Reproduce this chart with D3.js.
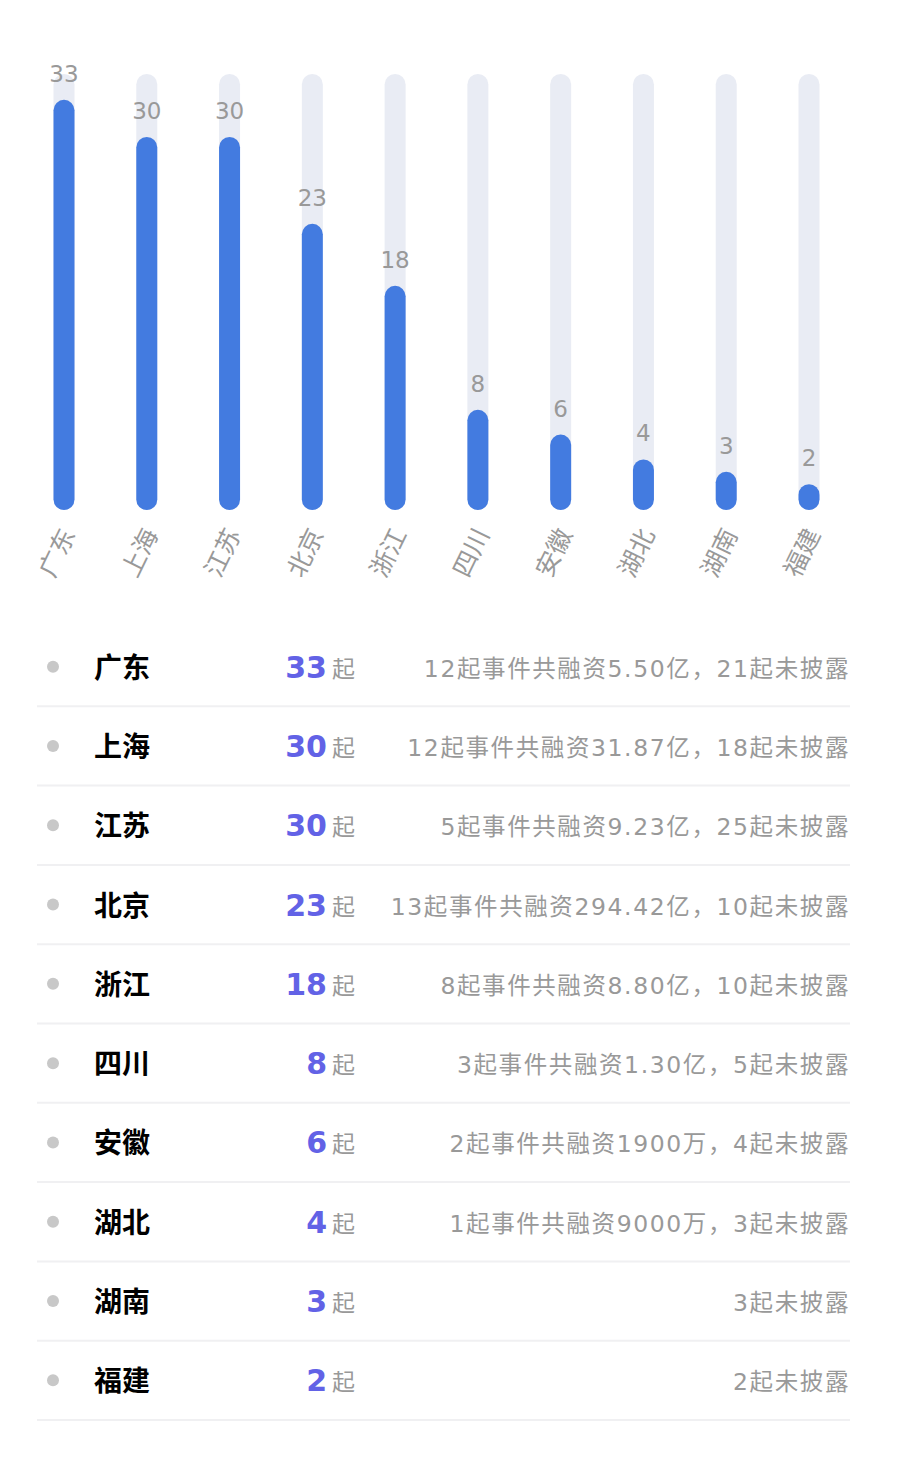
<!DOCTYPE html>
<html><head><meta charset="utf-8">
<script src="https://cdn.jsdelivr.net/npm/d3@7"></script>
<style>body{margin:0;background:#fff;font-family:"DejaVu Sans","Noto Sans CJK SC",sans-serif}</style>
</head><body><svg id="c" width="897" height="1461"></svg>
<script>
const provinces=["广东","上海","江苏","北京","浙江","四川","安徽","湖北","湖南","福建"];
const counts=[33,30,30,23,18,8,6,4,3,2];
const details=["12起事件共融资5.50亿，21起未披露","12起事件共融资31.87亿，18起未披露","5起事件共融资9.23亿，25起未披露","13起事件共融资294.42亿，10起未披露","8起事件共融资8.80亿，10起未披露","3起事件共融资1.30亿，5起未披露","2起事件共融资1900万，4起未披露","1起事件共融资9000万，3起未披露","3起未披露","2起未披露"];
const unit="起";
const svg=d3.select("#c");
const x=d3.scalePoint().domain(provinces).range([64,809]);
const y=d3.scaleLinear().domain([0,35]).range([510,76]);
const bw=21;
const g=svg.append("g");
g.selectAll(".bg").data(provinces).join("rect").attr("x",d=>x(d)-bw/2).attr("width",bw)
 .attr("y",y(35)-2).attr("height",y(0)-y(35)+2).attr("rx",bw/2).attr("fill","#e9ecf4");
g.selectAll(".bar").data(counts).join("rect").attr("x",(d,i)=>x(provinces[i])-bw/2).attr("width",bw)
 .attr("y",d=>y(d)-1).attr("height",d=>y(0)-y(d)+1).attr("rx",bw/2).attr("fill","#437be0");
g.selectAll(".vl").data(counts).join("text").attr("x",(d,i)=>x(provinces[i])).attr("y",d=>y(d)-19)
 .attr("text-anchor","middle").attr("font-size",23).attr("fill","#999").text(d=>d);
g.selectAll(".xl").data(provinces).join("text")
 .attr("transform",d=>`translate(${x(d)+12},${534}) rotate(-64)`)
 .attr("text-anchor","end").attr("font-size",25).attr("fill","#999").text(d=>d);
const rowY=d3.scaleBand().domain(provinces).range([627,1420]);
const rows=svg.selectAll(".row").data(provinces).join("g").attr("transform",d=>`translate(0,${rowY(d)+rowY.bandwidth()/2})`);
rows.append("circle").attr("cx",53).attr("cy",0).attr("r",6).attr("fill","#c8c8c8");
rows.append("text").attr("x",94).attr("y",11).attr("font-size",28).attr("font-weight","bold").attr("fill","#000").text(d=>d);
rows.append("text").attr("x",327).attr("y",11).attr("text-anchor","end").attr("font-size",30).attr("font-weight","bold").attr("fill","#6262e6").text((d,i)=>counts[i]);
rows.append("text").attr("x",332).attr("y",10).attr("font-size",23).attr("fill","#999").text(unit);
rows.append("text").attr("x",850).attr("y",10).attr("text-anchor","end").attr("font-size",23.5).attr("letter-spacing",1.6).attr("fill","#999").text((d,i)=>details[i]);
rows.append("line").attr("x1",37).attr("x2",850).attr("y1",rowY.bandwidth()/2).attr("y2",rowY.bandwidth()/2).attr("stroke","#f0f0f2").attr("stroke-width",2);
</script></body></html>
